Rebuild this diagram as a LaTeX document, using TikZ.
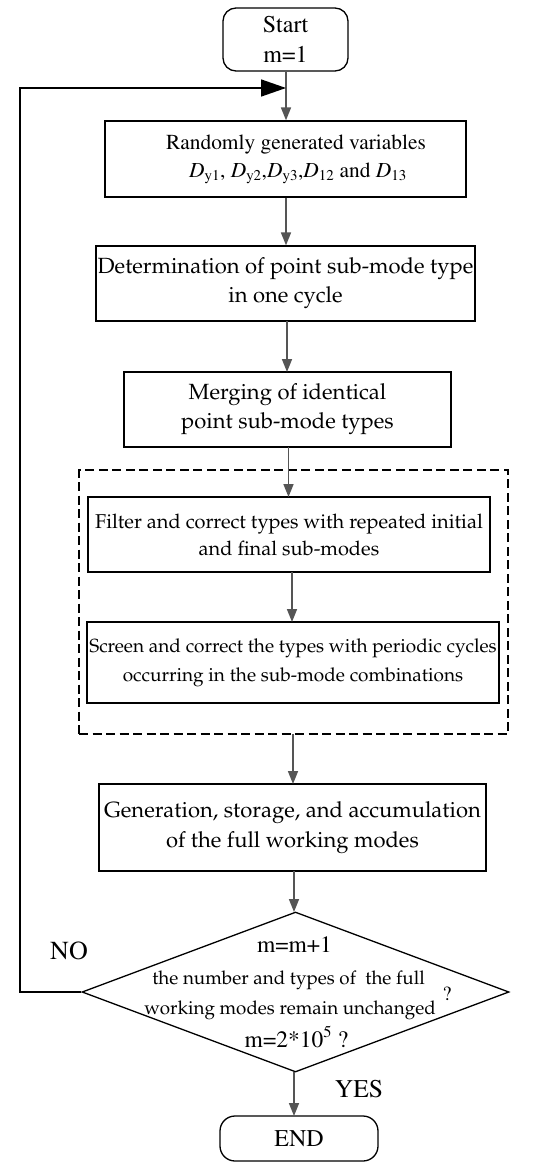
\documentclass[tikz,border=0pt]{standalone}
\usepackage[T1]{fontenc}
\usetikzlibrary{shapes.geometric,arrows.meta}
\newcommand\fTimes{\fontfamily{ptm}\selectfont}
\newcommand\fPal{\fontfamily{ppl}\selectfont}
\definecolor{arrgray}{HTML}{555555}
\tikzset{
  box/.style={draw=black, line width=1.3pt, rectangle, inner sep=0pt, align=center},
  term/.style={draw=black, line width=1.3pt, rectangle, rounded corners=13pt, inner sep=0pt, align=center},
  grp/.style={draw=black, line width=2.4pt, dash pattern=on 9pt off 4.5pt, rectangle, inner sep=0pt},
  flow/.style={draw=arrgray, line width=1.7pt, -{Triangle[length=13pt,width=10pt]}},
  back/.style={draw=black, line width=1.6pt, -{Triangle[length=25pt,width=17pt]}},
  lbl/.style={inner sep=0pt, align=center}
}
\begin{document}
\begin{tikzpicture}[x=1pt,y=-1pt]
\useasboundingbox (0,0) rectangle (550,1172);
\fill[white] (0,0) rectangle (550,1172);

\node[term, minimum width=125pt, minimum height=63pt, font={\fTimes\fontsize{24}{30}\selectfont}] (start) at (285.5,39.5) {Start\\m=1};

\node[box, minimum width=361pt, minimum height=76pt, font={\fTimes\fontsize{21.4}{28}\selectfont}] (b1) at (285.5,159)
  {\hspace*{21pt}Randomly generated variables\\\hspace*{25pt}\textit{D}\textsubscript{y1}, \textit{D}\textsubscript{y2},\textit{D}\textsubscript{y3},\textit{D}\textsubscript{12} and \textit{D}\textsubscript{13}};

\node[box, minimum width=379pt, minimum height=75pt, font={\fPal\fontsize{22}{29}\selectfont}] (b2) at (285.5,283.5)
  {Determination of point sub-mode type\\in one cycle};

\node[box, minimum width=327pt, minimum height=75pt, font={\fPal\fontsize{22}{29}\selectfont}] (b3) at (287.5,409.5)
  {Merging of identical\\point sub-mode types};

\node[grp, minimum width=429pt, minimum height=264pt] (g) at (293.5,602) {};

\node[box, minimum width=402pt, minimum height=75pt, font={\fPal\fontsize{20}{27}\selectfont}] (b4) at (289,534.5)
  {Filter and correct types with repeated initial\\and final sub-modes};

\node[box, minimum width=412pt, minimum height=81pt, font={\fPal\fontsize{19}{29}\selectfont}] (b5) at (293,662.5)
  {Screen and correct the types with periodic cycles\\occurring in the sub-mode combinations};

\node[box, minimum width=387pt, minimum height=87pt, font={\fPal\fontsize{22}{30}\selectfont}] (b6) at (292.5,827.5)
  {Generation, storage, and accumulation\\of the full working modes};

\node[draw=black, line width=1.3pt, diamond, minimum width=427pt, minimum height=160pt, inner sep=0pt] (d) at (295.5,992) {};
\node[lbl, font={\fTimes\fontsize{23.5}{26}\selectfont}, anchor=base] (d1) at (294.5,952) {m=m+1};
\node[lbl, font={\fPal\fontsize{18.8}{22}\selectfont}, anchor=base] (d2) at (288.5,984) {the number and types of \ the full};
\node[lbl, font={\fPal\fontsize{18.8}{22}\selectfont}, anchor=base] (d3) at (290,1014) {working modes remain unchanged};
\node[lbl, font={\fTimes\fontsize{20}{22}\selectfont}, anchor=base] (d4) at (447,1000) {?};
\node[lbl, font={\fTimes\fontsize{23.5}{26}\selectfont}, anchor=base] (d5) at (296.5,1047) {m=2*10\textsuperscript{5} ?};

\node[term, rounded corners=15pt, minimum width=158pt, minimum height=45pt, font={\fTimes\fontsize{24}{26}\selectfont}] (end) at (299,1138.5) {END};

\node[lbl, font={\fTimes\fontsize{26}{28}\selectfont}, anchor=base] (no) at (69,959) {NO};
\node[lbl, font={\fTimes\fontsize{25.5}{28}\selectfont}, anchor=base] (yes) at (359,1097) {YES};

\coordinate (fa) at (20,992);
\coordinate (fb) at (20,88);
\coordinate (fc) at (286,88);

\draw[flow] ([xshift=0.5pt]start.south) -- ([xshift=0.5pt]b1.north);
\draw[flow] ([xshift=0.5pt]b1.south) -- ([xshift=0.5pt]b1.south |- b2.north);
\draw[flow] (287,321) -- (287,372);
\draw[flow] (288.5,447) -- (288.5,497);
\draw[flow] (292,572) -- (292,622);
\draw[flow] (293,734) -- (293,784);
\draw[flow] (294,871) -- (294,912);
\draw[flow] (294,1072) -- (294,1116);
\draw[back] (d.west) -- (fa) -- (fb) -- (fc);
\end{tikzpicture}
\end{document}
